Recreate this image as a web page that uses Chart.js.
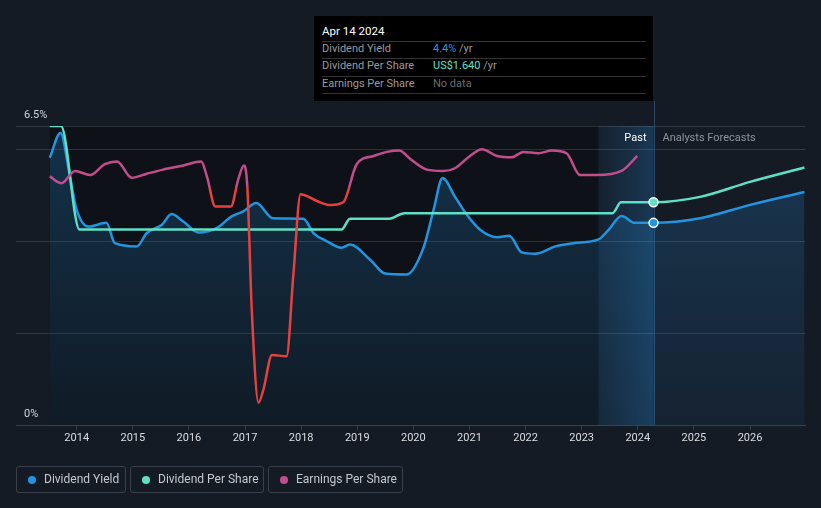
<!DOCTYPE html>
<html><head><meta charset="utf-8">
<script src="https://cdn.jsdelivr.net/npm/chart.js@4/dist/chart.umd.min.js"></script>
<style>
html,body{margin:0;padding:0;background:#151b25;width:821px;height:508px;overflow:hidden;font-family:Roboto,"Noto Sans",sans-serif}
#c{position:absolute;left:0;top:0}
#tip{position:absolute;left:314px;top:16px;width:339px;height:85px;background:#000;color:#9a9a9a;font-size:11px}
#tip .t{position:absolute;left:8px;color:#fff;font-size:11.5px;line-height:14px;top:8px}
#tip .sep{position:absolute;left:8px;width:324px;height:1px;background:#333}
#tip .r{position:absolute;left:8px;line-height:14px}
#tip .v{position:absolute;left:119px;line-height:14px}
.leg{position:absolute;top:466px;height:27px;border:1px solid #3a404a;border-radius:3px;box-sizing:border-box;color:#c6c8cc;font-size:12px;line-height:25px}
.leg i{position:absolute;left:11px;top:9px;width:8px;height:8px;border-radius:50%}
.leg span{position:absolute;left:27px;top:0;white-space:nowrap}
</style></head>
<body>
<canvas id="c" width="821" height="508"></canvas>
<div id="tip">
  <div class="t">Apr 14 2024</div>
  <div class="sep" style="top:25px"></div>
  <div class="r" style="top:26px">Dividend Yield</div><div class="v" style="top:26px"><span style="color:#2394df">4.4%</span> /yr</div>
  <div class="sep" style="top:42px"></div>
  <div class="r" style="top:43px">Dividend Per Share</div><div class="v" style="top:43px"><span style="color:#5fe0c6">US$1.640</span> /yr</div>
  <div class="sep" style="top:60px"></div>
  <div class="r" style="top:61px">Earnings Per Share</div><div class="v" style="top:61px;color:#6c6c6c">No data</div>
  <div class="sep" style="top:77px"></div>
</div>
<div class="leg" style="left:16px;width:110px"><i style="background:#2394df"></i><span>Dividend Yield</span></div>
<div class="leg" style="left:130px;width:134px"><i style="background:#5fe0c6"></i><span>Dividend Per Share</span></div>
<div class="leg" style="left:268px;width:135px"><i style="background:#c24d8c"></i><span>Earnings Per Share</span></div>
<script>
// ---- data ----
const xTicks = [2014,2015,2016,2017,2018,2019,2020,2021,2022,2023,2024,2025,2026];
const yieldYears = [2013.52,2013.71,2013.88,2014.0,2014.21,2014.53,2014.68,2015.07,2015.25,2015.52,2015.69,2015.90,2016.17,2016.50,2016.76,2016.97,2017.20,2017.50,2018.04,2018.22,2018.46,2018.72,2018.87,2019.23,2019.50,2019.88,2020.18,2020.36,2020.52,2020.74,2020.95,2021.19,2021.49,2021.71,2021.93,2022.17,2022.53,2022.85,2023.30,2023.48,2023.71,2023.95,2024.28,2025.11,2026.0,2026.97];
const yieldValues = [5.81,6.35,5.40,4.68,4.32,4.40,3.96,3.89,4.18,4.36,4.59,4.43,4.19,4.29,4.54,4.65,4.83,4.50,4.49,4.18,4.00,3.86,3.93,3.60,3.30,3.28,3.86,4.68,5.37,4.97,4.58,4.25,4.09,4.12,3.76,3.73,3.89,3.96,4.04,4.25,4.55,4.40,4.40,4.50,4.79,5.07];
const dpsYears = [2013.52,2013.72,2014.05,2018.72,2018.87,2019.57,2019.84,2023.55,2023.70,2024.28,2025.11,2026.0,2026.97];
const dpsValues = [2.2,2.2,1.44,1.44,1.52,1.52,1.56,1.56,1.64,1.64,1.68,1.79,1.895];
const epsYears = [2013.52,2013.73,2013.97,2014.24,2014.50,2014.72,2014.98,2015.25,2015.54,2015.90,2016.22,2016.32,2016.47,2016.75,2016.88,2016.98,2017.04,2017.12,2017.24,2017.33,2017.48,2017.74,2017.86,2017.99,2018.28,2018.52,2018.75,2018.99,2019.29,2019.53,2019.75,2019.94,2020.24,2020.53,2020.74,2021.01,2021.22,2021.49,2021.75,2021.96,2022.23,2022.47,2022.73,2022.97,2023.27,2023.71,2023.99];
const epsValues = [1.83,1.78,1.87,1.84,1.92,1.94,1.82,1.85,1.88,1.91,1.94,1.83,1.61,1.61,1.81,1.91,1.76,0.85,0.17,0.27,0.52,0.51,1.10,1.70,1.65,1.62,1.64,1.92,1.98,2.01,2.02,1.96,1.88,1.87,1.89,1.98,2.03,1.98,1.97,2.01,2.00,2.02,2.00,1.84,1.84,1.87,1.98];
const epsCoverThreshold = 1.754;
const pastStart = 2023.30, today = 2024.28;

const pts = (xs, ys) => xs.map((x,i)=>({x, y: ys[i]}));
const BLUE='#2394df', TEAL='#5fe0c6', PINK='#c24d8c', RED='#e8403f';

const bgPlugin = {
  id:'bg',
  beforeDraw(chart){
    const {ctx, chartArea:a, scales:{x}} = chart;
    ctx.save();
    const x0 = x.getPixelForValue(yieldYears[0]), x1 = x.getPixelForValue(pastStart), x2 = x.getPixelForValue(today);
    ctx.fillStyle = '#0e1218';
    ctx.fillRect(x0, a.top, x1-x0, a.bottom-a.top);
    const g = ctx.createLinearGradient(x1,0,x2,0);
    g.addColorStop(0,'rgba(35,110,170,0.08)');
    g.addColorStop(1,'rgba(35,120,190,0.32)');
    ctx.fillStyle = g;
    ctx.fillRect(x1, a.top, x2-x1, a.bottom-a.top);
    ctx.restore();
  },
  beforeDatasetsDraw(chart){
    const {ctx, chartArea:a, scales:{x}} = chart;
    const x2 = Math.round(x.getPixelForValue(today))+0.5;
    ctx.save();
    ctx.strokeStyle = '#2b4a68'; ctx.lineWidth = 1;
    ctx.beginPath(); ctx.moveTo(x2, 101); ctx.lineTo(x2, a.bottom); ctx.stroke();
    ctx.font = '11px Roboto, sans-serif';
    ctx.textBaseline = 'middle';
    ctx.fillStyle = '#ffffff'; ctx.textAlign = 'right';
    ctx.fillText('Past', x2-8, 138);
    ctx.fillStyle = '#8e939b'; ctx.textAlign = 'left';
    ctx.fillText('Analysts Forecasts', x2+8, 138);
    ctx.fillStyle = '#d4d6da';
    ctx.fillText('6.5%', 24, 115);
    ctx.fillText('0%', 24, 414);
    ctx.restore();
  }
};

function epsColor(c){
  const ch = c.chart, a = ch.chartArea;
  if(!a) return PINK;
  const y = ch.scales.y2.getPixelForValue(epsCoverThreshold);
  const f = Math.min(1, Math.max(0, (y - a.top)/(a.bottom - a.top)));
  const g = ch.ctx.createLinearGradient(0, a.top, 0, a.bottom);
  g.addColorStop(0, PINK); g.addColorStop(f, PINK); g.addColorStop(f, RED); g.addColorStop(1, RED);
  return g;
}
function fillGrad(c){
  const ch = c.chart, a = ch.chartArea;
  if(!a) return 'rgba(35,148,223,0.15)';
  const g = ch.ctx.createLinearGradient(0, a.top, 0, a.bottom);
  g.addColorStop(0, 'rgba(35,140,215,0.26)');
  g.addColorStop(1, 'rgba(35,140,215,0.07)');
  return g;
}
const dot = c => (c.raw && c.raw.x === today) ? 4.5 : 0;

new Chart(document.getElementById('c'), {
  type:'line',
  data:{ datasets:[
    {label:'Earnings Per Share', data: pts(epsYears, epsValues), yAxisID:'y2', borderColor: epsColor, borderWidth:2.5, pointRadius:0, fill:false, order:1},
    {label:'Dividend Per Share', data: pts(dpsYears, dpsValues), yAxisID:'y2', borderColor: TEAL, borderWidth:2.5, pointRadius: dot, pointBackgroundColor: TEAL, pointBorderColor:'#fff', pointBorderWidth:1.5, fill:false, order:2},
    {label:'Dividend Yield', data: pts(yieldYears, yieldValues), yAxisID:'y', borderColor: BLUE, borderWidth:2.5, pointRadius: dot, pointBackgroundColor: BLUE, pointBorderColor:'#fff', pointBorderWidth:1.5, fill:'start', backgroundColor: fillGrad, order:3}
  ]},
  options:{
    responsive:false, animation:false,
    layout:{padding:{left:16,right:16,top:126,bottom:61}},
    elements:{line:{cubicInterpolationMode:'monotone'}},
    plugins:{legend:{display:false}, tooltip:{enabled:false}},
    scales:{
      x:{type:'linear', min:2012.918, max:2026.98,
        afterBuildTicks: s => { s.ticks = xTicks.map(v=>({value:v})); },
        ticks:{color:'#dcdde0', font:{family:'Roboto', size:11}, padding:2, callback: v => String(v), maxRotation:0},
        grid:{drawOnChartArea:false, drawTicks:true, tickLength:4, color:'#3a414c'},
        border:{display:true, color:'#3a414c'}},
      y:{min:0, max:6.5, position:'left',
        afterBuildTicks: s => { s.ticks = [0,2,4,6,6.5].map(v=>({value:v})); },
        ticks:{display:false}, grid:{color:'rgba(255,255,255,0.13)', drawTicks:false}, border:{display:false}},
      y2:{min:0, max:2.2, display:false}
    }
  },
  plugins:[bgPlugin]
});
</script>
</body></html>
